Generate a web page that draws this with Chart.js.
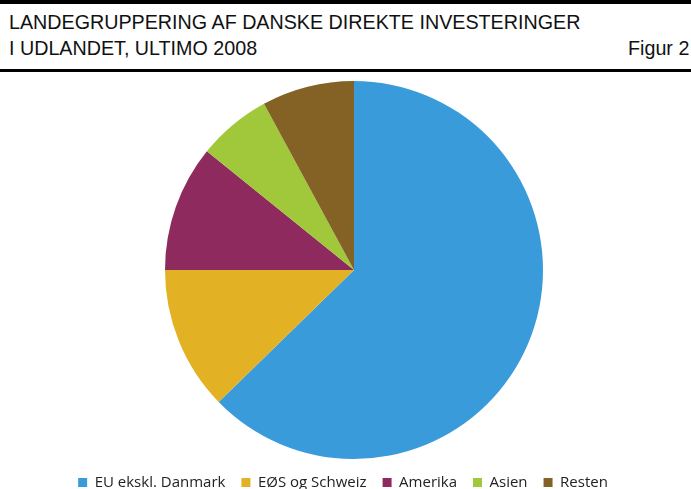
<!DOCTYPE html>
<html>
<head>
<meta charset="utf-8">
<script src="https://cdn.jsdelivr.net/npm/chart.js"></script>
<style>
  body { margin: 0; background: #fff; width: 691px; height: 489px; overflow: hidden; position: relative; }
  .rule { position: absolute; left: 0; width: 691px; background: #000; }
  .title { position: absolute; left: 9px; font-family: "Liberation Sans Narrow", "Arial Narrow", "Liberation Sans", sans-serif; font-size: 21px; color: #111; white-space: nowrap; transform: scaleX(0.938); transform-origin: left top; }
  #wrap { position: absolute; left: 0; top: 72px; width: 691px; height: 428px; }
</style>
</head>
<body>
<div class="rule" style="top:0;height:4px"></div>
<div class="title" style="top:10px">LANDEGRUPPERING AF DANSKE DIREKTE INVESTERINGER</div>
<div class="title" style="top:36px">I UDLANDET, ULTIMO 2008</div>
<div class="title" style="top:36px;left:auto;right:2px;transform-origin:right top">Figur 2</div>
<div class="rule" style="top:69px;height:3px"></div>
<div id="wrap"><canvas id="pie"></canvas></div>
<script>
// Andele i procent
const regions = ["EU ekskl. Danmark", "EØS og Schweiz", "Amerika", "Asien", "Resten"];
const shares = [62.7, 12.3, 10.8, 6.3, 7.9];
const colors = ["#3a9bdb", "#e2b224", "#8e2a5e", "#a0c83a", "#846226"];

// legenden sidder lidt til venstre for lagkagens midte
const shiftLegend = {
    id: 'shiftLegend',
    afterLayout(chart) {
        chart.legend.left -= 11;
        chart.legend.right -= 11;
    }
};

new Chart(document.getElementById('pie'), {
    type: 'pie',
    data: {
        labels: regions,
        datasets: [{
            data: shares,
            backgroundColor: colors,
            borderWidth: 0
        }]
    },
    options: {
        responsive: true,
        maintainAspectRatio: false,
        animation: false,
        layout: { padding: { top: 9, left: 17, bottom: 0 } },
        plugins: {
            tooltip: { enabled: false },
            legend: {
                position: 'bottom',
                labels: {
                    boxWidth: 9,
                    boxHeight: 9,
                    padding: 16,
                    color: '#222',
                    font: { family: '"Open Sans", sans-serif', size: 15 }
                }
            }
        }
    },
    plugins: [shiftLegend]
});
</script>
</body>
</html>
